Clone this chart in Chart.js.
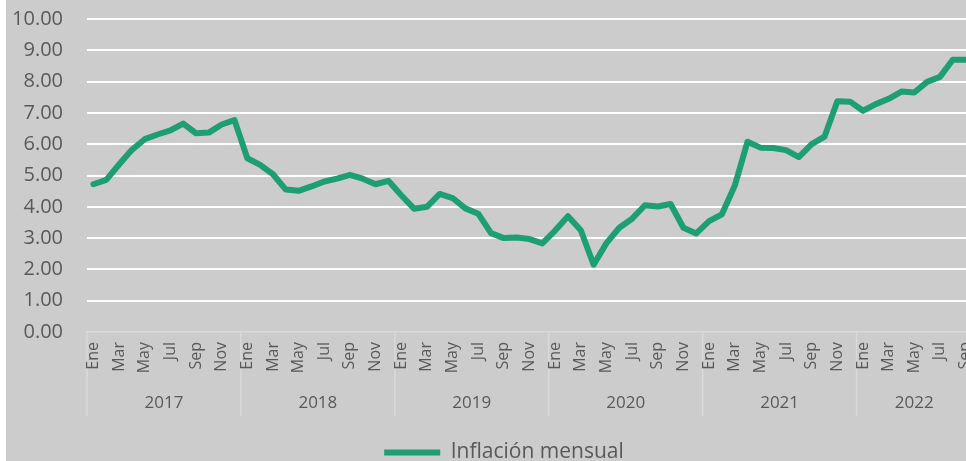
<!DOCTYPE html>
<html>
<head>
<meta charset="utf-8">
<script src="https://cdn.jsdelivr.net/npm/chart.js@4"></script>
<style>
  html, body { margin: 0; padding: 0; background: #fff; overflow: hidden; }
  #wrap { position: absolute; left: 6px; top: 0; width: 1000px; height: 461px; background: #cccccc; }
</style>
</head>
<body>
<div id="wrap"><canvas id="inflacion" width="1000" height="461"></canvas></div>
<script>
const years = ['2017', '2018', '2019', '2020', '2021', '2022'];
const monthNames = ['Ene', 'Feb', 'Mar', 'Abr', 'May', 'Jun', 'Jul', 'Ago', 'Sep', 'Oct', 'Nov', 'Dic'];
const monthsPerYear = [12, 12, 12, 12, 12, 9];

const inflacion2017 = [4.72, 4.86, 5.35, 5.82, 6.16, 6.31, 6.44, 6.66, 6.35, 6.37, 6.63, 6.77];
const inflacion2018 = [5.55, 5.34, 5.04, 4.55, 4.51, 4.65, 4.81, 4.90, 5.02, 4.90, 4.72, 4.83];
const inflacion2019 = [4.37, 3.94, 4.00, 4.41, 4.28, 3.95, 3.78, 3.16, 3.00, 3.02, 2.97, 2.83];
const inflacion2020 = [3.24, 3.70, 3.25, 2.15, 2.84, 3.33, 3.62, 4.05, 4.01, 4.09, 3.33, 3.15];
const inflacion2021 = [3.54, 3.76, 4.67, 6.08, 5.89, 5.88, 5.81, 5.59, 6.00, 6.24, 7.37, 7.36];
const inflacion2022 = [7.07, 7.28, 7.45, 7.68, 7.65, 7.99, 8.15, 8.70, 8.70];

const yTicks = [0, 1, 2, 3, 4, 5, 6, 7, 8, 9, 10];

const labels = [];
monthsPerYear.forEach(n => { for (let i = 0; i < n; i++) labels.push(monthNames[i]); });
const values = [].concat(inflacion2017, inflacion2018, inflacion2019, inflacion2020, inflacion2021, inflacion2022);

const textColor = '#595959';
const fontFamily = '"Open Sans", "Liberation Sans", sans-serif';

// year row and separators under the month labels, drawn before the scales
const yearGroups = {
  id: 'yearGroups',
  afterLayout(chart) {
    // nudge the legend a bit to the right, as in the original
    chart.legend.left += 15;
    chart.legend.right += 15;
  },
  beforeDraw(chart) {
    const ctx = chart.ctx;
    const x = chart.scales.x;
    const step = x.getPixelForValue(1) - x.getPixelForValue(0);
    const top = chart.chartArea.bottom;
    ctx.save();
    ctx.strokeStyle = '#dadada';
    ctx.lineWidth = 1.5;
    let start = 0;
    years.forEach((yr, k) => {
      const n = monthsPerYear[k];
      const left = x.getPixelForValue(start) - step / 2;
      const right = x.getPixelForValue(start + n - 1) + step / 2;
      ctx.beginPath();
      ctx.moveTo(left, top);
      ctx.lineTo(left, top + 84);
      ctx.stroke();
      ctx.fillStyle = textColor;
      ctx.font = '17px ' + fontFamily;
      ctx.textAlign = 'center';
      ctx.textBaseline = 'middle';
      ctx.fillText(yr, (left + right) / 2, top + 71);
      start += n;
    });
    ctx.restore();
  }
};

const ctx = document.getElementById('inflacion').getContext('2d');
const chart = new Chart(ctx, {
  type: 'line',
  data: {
    labels: labels,
    datasets: [{
      label: 'Inflación mensual',
      data: values,
      borderColor: '#1e9e74',
      backgroundColor: '#1e9e74',
      borderWidth: 6,
      borderJoinStyle: 'round',
      borderCapStyle: 'round',
      pointRadius: 0,
      tension: 0,
      fill: false
    }]
  },
  options: {
    responsive: false,
    animation: false,
    devicePixelRatio: 1,
    // right padding keeps the plot edge at the window border
    layout: { padding: { top: 19, right: 34, left: 0, bottom: -12 } },
    plugins: {
      tooltip: { enabled: false },
      legend: {
        position: 'bottom',
        labels: {
          usePointStyle: true,
          pointStyle: 'line',
          pointStyleWidth: 56,
          color: textColor,
          padding: 2,
          font: { size: 21, family: fontFamily }
        }
      }
    },
    scales: {
      x: {
        offset: true,
        grid: { display: false, drawTicks: false },
        border: { display: true, color: '#dadada', width: 1.5 },
        ticks: {
          autoSkip: false,
          minRotation: 90,
          maxRotation: 90,
          padding: 10,
          color: textColor,
          font: { size: 16, family: fontFamily },
          callback: (v, i) => (i % 2 === 0 ? labels[i] : '')
        },
        afterFit: s => { s.height = 108; s.paddingLeft = 0; s.paddingRight = 0; }
      },
      y: {
        min: 0,
        max: 10,
        afterBuildTicks: s => { s.ticks = yTicks.map(v => ({ value: v })); },
        grid: {
          color: c => (c.tick.value === 0 ? 'rgba(0,0,0,0)' : '#ffffff'),
          lineWidth: 2,
          drawTicks: false
        },
        border: { display: false },
        ticks: {
          padding: 24,
          color: textColor,
          font: { size: 20, family: fontFamily },
          callback: v => v.toFixed(2)
        },
        afterFit: s => { s.width = 81; s.paddingTop = 0; s.paddingBottom = 0; }
      }
    }
  },
  plugins: [yearGroups]
});
</script>
</body>
</html>
